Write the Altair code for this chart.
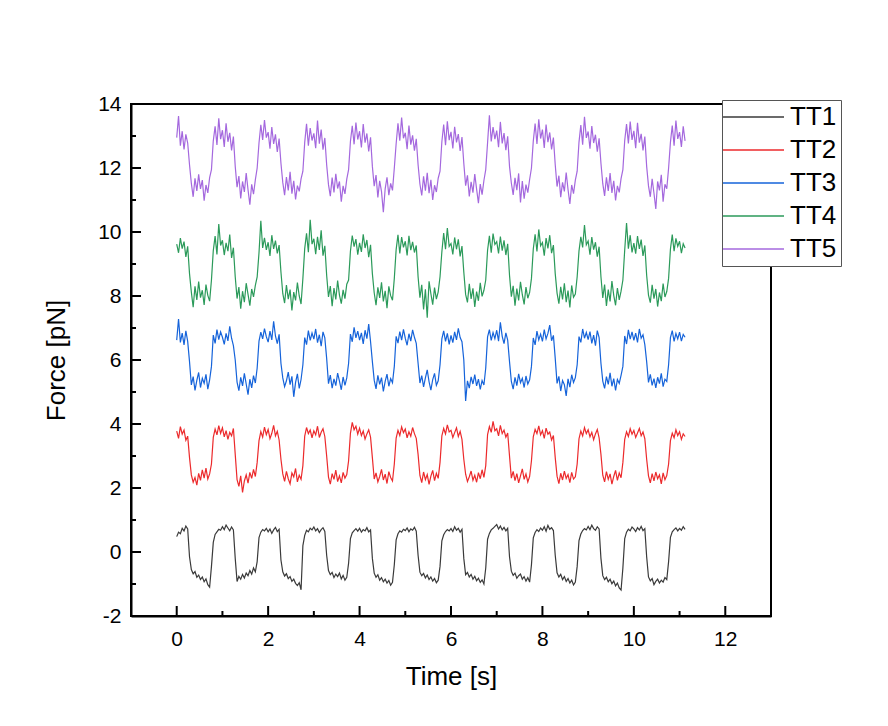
import altair as alt
import pandas as pd

# ---------------- data ----------------
t_step = 0.04  # sampling interval of the traces [s]

series_names = ["TT1", "TT2", "TT3", "TT4", "TT5"]
series_colors = ["#3a3a3a", "#ec2a2c", "#1563da", "#2b9a5a", "#a468de"]

tt1 = [
    0.48, 0.62, 0.57, 0.74, 0.66, 0.81, 0.72, -0.15, -0.55, -0.68, -0.61, -0.79, -0.72, -0.86, -0.78, -0.93, -0.84, -1.02, -1.10, -0.45, 0.30, 0.55, 0.63, 0.71, 0.68,
    0.79, 0.70, 0.84, 0.75, 0.66, 0.78, 0.69, -0.20, -0.92, -0.76, -0.85, -0.70, -0.81, -0.66, -0.74, -0.58, -0.69, -0.50, -0.62, -0.30, 0.45, 0.62, 0.70, 0.66, 0.74,
    0.63, 0.72, 0.58, 0.69, 0.77, 0.64, 0.71, -0.25, -0.62, -0.75, -0.68, -0.83, -0.77, -0.92, -0.85, -0.98, -1.05, -0.96, -1.18, 0.20, 0.52, 0.68, 0.63, 0.74, 0.69,
    0.78, 0.66, 0.73, 0.61, 0.70, 0.76, 0.64, -0.10, -0.58, -0.71, -0.64, -0.80, -0.69, -0.77, -0.66, -0.84, -0.73, -0.88, -0.79, -0.35, 0.42, 0.60, 0.67, 0.73, 0.65,
    0.74, 0.62, 0.70, 0.66, 0.76, 0.63, 0.69, -0.20, -0.66, -0.79, -0.71, -0.88, -0.80, -0.93, -0.85, -0.97, -0.89, -1.04, -0.95, -0.40, 0.38, 0.57, 0.66, 0.62, 0.71,
    0.67, 0.75, 0.63, 0.72, 0.68, 0.77, 0.65, -0.10, -0.63, -0.74, -0.67, -0.81, -0.72, -0.86, -0.78, -0.91, -0.83, -0.96, -0.88, -0.45, 0.35, 0.54, 0.64, 0.70, 0.66,
    0.73, 0.64, 0.79, 0.68, 0.74, 0.62, 0.71, -0.20, -0.71, -0.64, -0.78, -0.70, -0.85, -0.76, -0.90, -0.82, -0.95, -0.87, -1.00, -0.50, 0.40, 0.58, 0.69, 0.74, 0.80,
    0.86, 0.72, 0.81, 0.69, 0.77, 0.66, 0.74, -0.15, -0.60, -0.73, -0.66, -0.82, -0.74, -0.69, -0.85, -0.77, -0.91, -0.80, -0.94, -0.40, 0.44, 0.61, 0.70, 0.64, 0.75,
    0.68, 0.79, 0.65, 0.83, 0.71, 0.76, 0.67, -0.10, -0.65, -0.78, -0.70, -0.86, -0.77, -0.92, -0.83, -0.97, -0.88, -1.03, -0.94, -0.45, 0.36, 0.56, 0.67, 0.73, 0.69,
    0.80, 0.70, 0.84, 0.73, 0.68, 0.79, 0.72, -0.20, -0.74, -0.86, -0.79, -0.93, -0.85, -0.99, -0.91, -1.06, -0.97, -1.12, -1.19, -0.50, 0.42, 0.62, 0.71, 0.66, 0.78,
    0.72, 0.64, 0.76, 0.69, 0.80, 0.67, 0.73, -0.15, -0.78, -0.90, -0.83, -1.02, -0.92, -0.85, -0.97, -0.88, -0.94, -0.80, -0.86, -0.30, 0.46, 0.63, 0.70, 0.75, 0.66,
    0.74, 0.68, 0.79, 0.71,
]

tt2 = [
    3.78, 3.55, 3.92, 3.68, 3.81, 3.49, 3.62, 2.95, 2.41, 2.18, 2.33, 2.09, 2.46, 2.24, 2.57, 2.31, 2.62, 2.28, 2.44, 2.75, 3.58, 3.84, 3.66, 3.95, 3.71,
    3.88, 3.60, 3.79, 3.52, 3.74, 3.63, 3.86, 3.05, 2.26, 2.05, 2.38, 1.86, 2.22, 2.41, 2.15, 2.49, 2.30, 2.58, 2.36, 2.80, 3.48, 3.76, 3.59, 3.90, 3.67,
    3.83, 3.54, 3.71, 3.96, 3.63, 3.77, 3.50, 2.90, 2.44, 2.21, 2.52, 2.29, 2.13, 2.47, 2.35, 2.61, 2.19, 2.40, 2.27, 2.70, 3.62, 3.89, 3.70, 3.81, 3.57,
    3.79, 3.66, 3.93, 3.58, 3.74, 3.85, 3.61, 3.00, 2.34, 2.12, 2.45, 2.27, 2.56, 2.20, 2.38, 2.16, 2.49, 2.31, 2.42, 2.85, 3.71, 4.05, 3.82, 3.93, 3.68,
    3.87, 3.64, 3.78, 3.53, 3.69, 3.82, 3.59, 2.95, 2.28, 2.47, 2.19, 2.36, 2.58, 2.25, 2.43, 2.14, 2.51, 2.33, 2.22, 2.75, 3.56, 3.80, 3.64, 3.91, 3.73,
    3.84, 3.57, 3.76, 3.62, 3.89, 3.70, 3.55, 3.05, 2.39, 2.17, 2.50, 2.26, 2.42, 2.11, 2.37, 2.55, 2.23, 2.46, 2.30, 2.80, 3.63, 3.86, 3.69, 3.97, 3.75,
    3.80, 3.58, 3.73, 3.88, 3.61, 3.77, 3.52, 2.90, 2.43, 2.20, 2.35, 2.53, 2.24, 2.40, 2.18, 2.48, 2.29, 2.57, 2.33, 2.70, 3.67, 3.92, 3.74, 4.08, 3.79,
    3.85, 3.63, 3.96, 3.70, 3.81, 3.59, 3.72, 3.00, 2.31, 2.52, 2.23, 2.45, 2.16, 2.38, 2.60, 2.27, 2.44, 2.19, 2.36, 2.85, 3.60, 3.83, 3.70, 3.94, 3.66,
    3.79, 3.55, 3.87, 3.68, 3.75, 3.50, 3.64, 2.95, 2.37, 2.14, 2.46, 2.25, 2.53, 2.30, 2.42, 2.17, 2.49, 2.28, 2.35, 2.75, 3.54, 3.78, 3.63, 3.89, 3.70,
    3.82, 3.60, 3.74, 3.51, 3.69, 3.83, 3.57, 3.05, 2.40, 2.19, 2.51, 2.27, 2.44, 2.12, 2.36, 2.55, 2.24, 2.47, 2.32, 2.80, 3.52, 3.76, 3.61, 3.85, 3.68,
    3.80, 3.58, 3.72, 3.86, 3.63, 3.75, 3.54, 2.90, 2.38, 2.16, 2.45, 2.22, 2.50, 2.29, 2.41, 2.13, 2.47, 2.26, 2.39, 2.75, 3.48, 3.71, 3.57, 3.82, 3.64,
    3.76, 3.52, 3.69, 3.61,
]

tt3 = [
    6.62, 7.28, 6.55, 6.84, 6.47, 6.91, 6.58, 5.95, 5.22, 5.48, 5.05, 5.36, 5.61, 5.14, 5.43, 5.27, 5.55, 5.09, 5.38, 5.80, 6.78, 6.52, 6.95, 6.64, 6.88,
    6.71, 6.49, 6.83, 6.60, 7.05, 6.68, 6.45, 6.00, 5.31, 5.04, 5.46, 5.19, 5.58, 5.25, 4.92, 5.40, 5.13, 5.51, 5.28, 5.75, 6.59, 6.87, 6.66, 6.98, 6.73,
    6.56, 6.90, 6.63, 7.21, 6.75, 6.51, 6.80, 5.90, 5.44, 5.17, 5.35, 5.62, 5.23, 5.49, 4.85, 5.30, 5.57, 5.11, 5.39, 5.85, 6.70, 6.48, 6.92, 6.61, 6.84,
    6.65, 6.97, 6.54, 6.79, 6.43, 6.88, 6.69, 6.05, 5.26, 5.53, 5.12, 5.41, 5.20, 5.59, 5.34, 5.07, 5.47, 5.21, 5.44, 5.90, 6.81, 6.57, 7.02, 6.69, 6.90,
    6.62, 6.85, 6.50, 6.93, 6.67, 7.12, 6.58, 5.95, 5.37, 5.10, 5.52, 5.24, 5.45, 5.02, 5.33, 5.56, 5.18, 5.42, 5.29, 5.80, 6.74, 6.53, 6.89, 6.62, 6.96,
    6.68, 6.46, 6.82, 6.59, 6.94, 6.71, 6.52, 5.90, 5.28, 5.51, 5.16, 5.44, 5.69, 5.32, 5.06, 5.39, 5.58, 5.21, 5.35, 5.85, 6.66, 6.91, 6.58, 6.83, 6.49,
    6.77, 6.54, 6.88, 6.63, 6.99, 6.70, 6.57, 6.00, 4.72, 5.35, 5.12, 5.47, 5.25, 5.54, 5.19, 5.40, 5.08, 5.36, 5.22, 5.75, 6.72, 6.95, 6.61, 6.86, 6.67,
    6.93, 6.59, 7.18, 6.74, 6.51, 6.85, 6.62, 5.95, 5.33, 5.09, 5.46, 5.20, 5.57, 5.29, 5.43, 5.14, 5.50, 5.25, 5.38, 5.80, 6.69, 6.47, 6.90, 6.63, 6.81,
    6.58, 6.95, 6.66, 6.83, 7.09, 6.60, 6.77, 6.05, 5.27, 5.49, 5.03, 5.36, 5.23, 4.88, 5.41, 5.15, 5.54, 5.30, 5.45, 5.85, 6.73, 6.55, 6.97, 6.68, 6.86,
    6.64, 6.89, 6.52, 6.78, 6.45, 6.92, 6.70, 5.90, 5.34, 5.11, 5.48, 5.24, 5.60, 5.18, 5.42, 5.05, 5.39, 5.27, 5.52, 5.80, 6.75, 6.50, 6.94, 6.65, 6.88,
    6.61, 6.84, 6.55, 6.97, 6.68, 6.79, 6.48, 5.95, 5.30, 5.55, 5.21, 5.42, 5.13, 5.46, 5.26, 5.58, 5.17, 5.40, 5.33, 5.85, 6.70, 6.92, 6.58, 6.83, 6.66,
    6.87, 6.59, 6.80, 6.71,
]

tt4 = [
    9.62, 9.35, 9.81, 9.48, 9.70, 9.22, 9.55, 8.70, 8.12, 7.65, 8.30, 7.88, 8.45, 7.95, 8.18, 7.72, 8.36, 8.02, 7.84, 8.50, 9.42, 9.87, 9.30, 10.25, 9.58,
    9.74, 9.28, 9.66, 9.40, 9.92, 9.19, 9.51, 8.60, 7.92, 8.28, 7.60, 8.15, 7.81, 8.40, 8.05, 7.70, 8.22, 7.97, 8.33, 8.60, 9.35, 10.35, 9.50, 9.82, 9.44,
    9.68, 9.25, 9.90, 9.47, 9.73, 9.33, 9.59, 8.75, 8.08, 7.78, 8.34, 7.90, 8.20, 7.55, 8.12, 7.86, 8.42, 8.00, 7.75, 8.55, 9.48, 9.96, 9.37, 10.38, 9.62,
    9.79, 9.31, 9.85, 9.44, 10.05, 9.26, 9.57, 8.65, 7.97, 8.31, 7.68, 8.25, 7.89, 8.48, 8.03, 7.76, 8.19, 7.92, 8.37, 8.50, 9.40, 9.89, 9.54, 9.78, 9.29,
    9.66, 9.38, 9.93, 9.50, 9.75, 9.21, 9.60, 8.70, 8.10, 7.71, 8.27, 7.94, 8.43, 7.83, 8.16, 7.62, 8.30, 8.01, 7.87, 8.55, 9.45, 9.91, 9.33, 9.84, 9.52,
    9.71, 9.27, 9.88, 9.43, 9.69, 9.36, 9.58, 8.60, 7.95, 8.35, 7.58, 8.21, 7.32, 8.46, 8.07, 7.73, 8.26, 7.90, 8.13, 8.60, 9.38, 9.97, 9.46, 10.12, 9.55,
    9.64, 9.30, 9.83, 9.46, 9.77, 9.24, 9.56, 8.75, 8.05, 7.80, 8.38, 7.91, 8.24, 7.66, 8.14, 7.85, 8.41, 7.99, 8.18, 8.50, 9.43, 9.88, 9.35, 9.95, 9.61,
    9.70, 9.33, 9.86, 9.42, 9.74, 9.28, 9.63, 8.65, 7.98, 8.32, 7.70, 8.23, 7.86, 8.44, 8.04, 7.74, 8.28, 7.93, 8.11, 8.55, 9.47, 9.93, 9.39, 10.08, 9.57,
    9.67, 9.26, 9.81, 9.49, 9.90, 9.34, 9.59, 8.70, 8.09, 7.76, 8.29, 7.89, 8.40, 7.81, 8.17, 7.64, 8.33, 7.96, 8.06, 8.60, 9.41, 9.85, 9.52, 10.22, 9.60,
    9.72, 9.29, 9.84, 9.45, 9.68, 9.23, 9.54, 8.60, 7.94, 8.36, 7.69, 8.20, 7.83, 8.47, 8.02, 7.71, 8.25, 7.88, 8.15, 8.50, 9.44, 10.28, 9.48, 9.90, 9.36,
    9.65, 9.32, 9.87, 9.47, 9.76, 9.25, 9.58, 8.65, 8.03, 7.79, 8.35, 7.92, 8.22, 7.67, 8.11, 7.84, 8.39, 7.97, 8.14, 8.55, 9.46, 9.92, 9.40, 9.80, 9.55,
    9.71, 9.34, 9.63, 9.50,
]

tt5 = [
    12.95, 13.62, 12.70, 13.15, 12.58, 13.05, 12.78, 12.10, 11.52, 11.10, 11.68, 11.28, 11.80, 11.35, 11.62, 10.98, 11.47, 11.22, 11.70, 11.95, 12.85, 13.30, 12.72, 13.55, 12.90,
    13.18, 12.66, 13.40, 12.82, 13.10, 12.55, 12.98, 12.05, 11.40, 11.75, 11.05, 11.58, 11.25, 11.84, 11.32, 10.85, 11.49, 11.18, 11.63, 12.00, 12.78, 13.35, 12.88, 13.50, 12.95,
    13.12, 12.60, 13.28, 12.75, 13.05, 12.50, 12.92, 12.15, 11.55, 11.15, 11.72, 11.30, 11.88, 11.20, 11.60, 11.02, 11.45, 11.27, 11.66, 11.90, 12.80, 13.38, 12.70, 13.25, 12.86,
    13.08, 12.62, 13.48, 12.76, 13.20, 12.57, 12.94, 12.10, 11.48, 11.12, 11.70, 11.24, 11.82, 11.36, 11.58, 10.95, 11.44, 11.19, 11.65, 11.95, 12.83, 13.32, 12.74, 13.42, 12.89,
    13.15, 12.64, 13.37, 12.79, 13.08, 12.52, 12.96, 12.05, 11.43, 11.78, 11.08, 11.60, 11.26, 10.62, 11.35, 11.71, 11.15, 11.52, 11.30, 12.00, 12.76, 13.40, 12.85, 13.58, 12.93,
    13.10, 12.59, 13.33, 12.73, 13.02, 12.54, 12.91, 12.10, 11.50, 11.14, 11.74, 11.29, 11.85, 11.21, 11.63, 11.00, 11.46, 11.25, 11.68, 11.90, 12.82, 13.36, 12.71, 13.46, 12.87,
    13.13, 12.61, 13.29, 12.80, 13.06, 12.53, 12.97, 12.15, 11.45, 11.77, 11.11, 11.57, 11.23, 11.81, 11.34, 10.90, 11.50, 11.17, 11.61, 11.95, 12.79, 13.65, 12.83, 13.28, 12.90,
    13.17, 12.65, 13.44, 12.77, 13.09, 12.56, 12.99, 12.05, 11.53, 11.16, 11.69, 11.31, 11.83, 10.92, 11.59, 11.04, 11.48, 11.23, 11.64, 12.00, 12.84, 13.39, 12.75, 13.52, 12.92,
    13.20, 12.63, 13.36, 12.81, 13.11, 12.58, 12.95, 12.10, 11.42, 11.76, 11.09, 11.55, 11.27, 11.86, 11.33, 10.88, 11.47, 11.20, 11.62, 11.90, 12.81, 13.34, 12.73, 13.60, 12.94,
    13.14, 12.60, 13.31, 12.78, 13.04, 12.51, 12.93, 12.15, 11.51, 11.13, 11.71, 11.28, 11.84, 11.22, 11.60, 10.99, 11.44, 11.24, 11.67, 11.95, 12.86, 13.37, 12.77, 13.45, 12.88,
    13.16, 12.62, 13.41, 12.79, 13.07, 12.55, 12.98, 12.05, 11.44, 11.10, 11.66, 11.21, 10.72, 11.58, 11.30, 11.79, 10.95, 11.49, 11.35, 12.00, 12.80, 13.33, 12.70, 13.48, 12.91,
    13.12, 12.66, 13.30, 12.85,
]

x_major = [0, 2, 4, 6, 8, 10, 12]
x_minor = [1, 3, 5, 7, 9, 11]
y_major = [-2, 0, 2, 4, 6, 8, 10, 12, 14]
y_minor = [-1, 1, 3, 5, 7, 9, 11, 13]

# ---------------- table ----------------
rows = []
for name, vals in zip(series_names, [tt1, tt2, tt3, tt4, tt5]):
    for i, v in enumerate(vals):
        rows.append({"time": round(i * t_step, 3), "force": v, "series": name})
df = pd.DataFrame(rows)

W, H = 640, 512
FONT = "Liberation Sans"
PLAIN_LABEL = "'' + datum.value"   # hyphen-minus, as in the reference

x_scale = alt.Scale(domain=[-1, 13], nice=False, zero=False)
y_scale = alt.Scale(domain=[-2, 14], nice=False, zero=False)

x_axis = alt.Axis(title="Time [s]", values=x_major, labelPadding=12, titlePadding=14,
                  labelExpr=PLAIN_LABEL)
y_axis = alt.Axis(title="Force [pN]", values=y_major, labelPadding=10, titlePadding=28,
                  labelExpr=PLAIN_LABEL)

lines = alt.Chart(df).mark_line(strokeWidth=1.2).encode(
    x=alt.X("time:Q", scale=x_scale, axis=x_axis),
    y=alt.Y("force:Q", scale=y_scale, axis=y_axis),
    color=alt.Color(
        "series:N",
        scale=alt.Scale(domain=series_names, range=series_colors),
        legend=alt.Legend(
            title=None,
            orient="none",
            legendX=591,
            legendY=-4,
            symbolType="M-2.13,0H6",
            symbolSize=225,
            symbolStrokeWidth=1.5,
            labelFont=FONT,
            labelFontSize=26,
            labelColor="black",
            labelOffset=38,
            padding=4,
            rowPadding=7,
            strokeColor="#555555",
            fillColor="white",
        ),
    ),
    order=alt.Order("time:Q"),
)

xmaj = alt.Chart(pd.DataFrame({"time": x_major})).mark_rule(color="black", strokeWidth=2).encode(
    x=alt.X("time:Q", scale=x_scale, axis=x_axis), y=alt.value(H), y2=alt.value(H - 10))
xmin = alt.Chart(pd.DataFrame({"time": x_minor})).mark_rule(color="black", strokeWidth=2).encode(
    x=alt.X("time:Q", scale=x_scale, axis=x_axis), y=alt.value(H), y2=alt.value(H - 5))
ymaj = alt.Chart(pd.DataFrame({"force": y_major})).mark_rule(color="black", strokeWidth=2).encode(
    y=alt.Y("force:Q", scale=y_scale, axis=y_axis), x=alt.value(0), x2=alt.value(10))
ymin = alt.Chart(pd.DataFrame({"force": y_minor})).mark_rule(color="black", strokeWidth=2).encode(
    y=alt.Y("force:Q", scale=y_scale, axis=y_axis), x=alt.value(0), x2=alt.value(5))

chart = alt.layer(lines, xmaj, xmin, ymaj, ymin).properties(
    width=W,
    height=H,
    autosize=alt.AutoSizeParams(type="none"),
    padding={"left": 123, "top": 96, "right": 100, "bottom": 90},
).configure_view(
    stroke="black", strokeWidth=2
).configure_axis(
    labelFont=FONT,
    titleFont=FONT,
    labelFontSize=21,
    titleFontSize=26,
    titleFontWeight="normal",
    labelColor="black",
    titleColor="black",
    domainColor="black",
    domainWidth=2,
    ticks=False,
    grid=False,
    labelFlush=False,
    labelOverlap=False,
)

chart.save("out.html", embed_options={"renderer": "svg", "actions": False})
